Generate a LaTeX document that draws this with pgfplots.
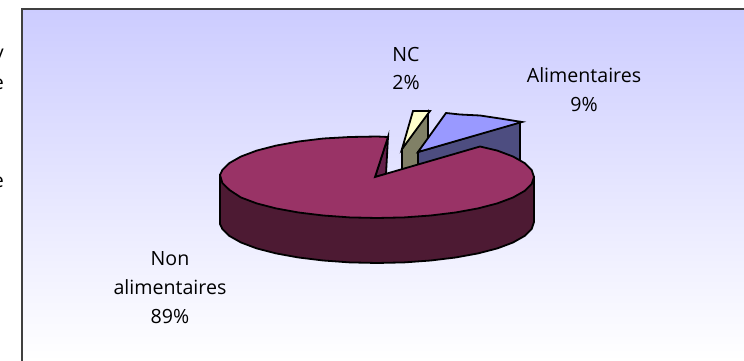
\documentclass[border=0pt]{standalone}
\usepackage{pgfplots}
\pgfplotsset{compat=1.18}
\usepackage{fontspec}
\setmainfont{Open Sans}
\definecolor{mainTop}{HTML}{993366}
\definecolor{mainSide}{HTML}{4D1A33}
\definecolor{mainWall}{HTML}{64204A}
\definecolor{foodTop}{HTML}{9999FF}
\definecolor{foodSide}{HTML}{4D4D80}
\definecolor{ncTop}{HTML}{FFFFCC}
\definecolor{ncSide}{HTML}{808066}
\definecolor{bgTop}{HTML}{CCCCFF}
\tikzset{lab/.style={font=\fontsize{19.6}{22}\selectfont, text=black, inner sep=0pt, anchor=center}}
\begin{document}
\begin{tikzpicture}
\begin{axis}[
  scale only axis, width=744pt, height=361pt,
  xmin=0, xmax=744, ymin=0, ymax=361, y dir=reverse,
  axis lines=none, clip=true,
  every axis plot/.append style={line join=miter, line width=1.8pt, draw=black},
]
% chart area
\fill[white] (axis cs:0,0) rectangle (axis cs:744,361);
\fill[top color=bgTop, bottom color=white] (axis cs:22,9) rectangle (axis cs:744,361);
\draw[black!75, line width=1.8pt] (axis cs:744,9) -- (axis cs:22,9) -- (axis cs:22,361);

% side of the exploded NC slice
\addplot[fill=ncSide] coordinates {(402,149)(428,112)(428,140)(418,152)(418,166)(402,170)} -- cycle;
% top of the NC slice
\addplot[fill=ncTop] coordinates {(413,111)(430,111)(402,149)} -- cycle;
% side of the Alimentaires slice
\addplot[fill=foodSide] coordinates {(418,152)(520,122)(520,166)(480,150)(418,166)} -- cycle;
% top of the Alimentaires slice
\addplot[fill=foodTop] coordinates {(446,113)(460,114.5)(480,115.5)(500,118.5)(522,122)(418,152)} -- cycle;

% rim of the Non alimentaires slice
\addplot[fill=mainSide] coordinates {
 (220,175)(220,224)(222.4,229.1)(229.5,236)(241,242.5)(256.7,248.4)(276,253.4)(298.5,257.5)
 (323.3,260.5)(349.7,262.4)(377,263)(404.3,262.4)(430.7,260.5)(455.5,257.5)(478,253.4)
 (497.3,248.4)(513,242.5)(524.5,236)(531.6,229.1)(534,222)(534,177)} -- cycle;
% inner wall at the cut
\addplot[fill=mainWall] coordinates {(375,177)(388,137)(386,174)} -- cycle;
% top of the Non alimentaires slice
\addplot[fill=mainTop] coordinates {
 (375,177)(388,137)(377,136.5)(349.7,137)(323.3,138.5)(298.5,141.5)(276,145.6)(256.7,150.6)
 (241,156.5)(229.5,163)(222.4,169.9)(220,175)(222.4,183)(229.5,190)(241,197.5)(256.7,203.4)
 (276,208.4)(298.5,212.5)(323.3,215.5)(349.7,217.4)(377,218)(404.3,217.4)(430.7,215.5)
 (455.5,212.5)(478,208.4)(497.3,203.4)(513,197.5)(524.5,191)(531.6,184.1)(534,177)
 (531.6,169.9)(524.5,163)(513,156.5)(497.3,150.6)(480,146.5)} -- cycle;

% slice labels
\node[lab] at (axis cs:406,54) {NC};
\node[lab] at (axis cs:406,82) {2\%};
\node[lab] at (axis cs:584,75) {Alimentaires};
\node[lab] at (axis cs:584,104) {9\%};
\node[lab] at (axis cs:170,259) {Non};
\node[lab] at (axis cs:170,287) {alimentaires};
\node[lab] at (axis cs:170,316) {89\%};

% ends of the text lines running in from the left margin
\begin{scope}
\clip (axis cs:0,40) rectangle (axis cs:6,200);
\node[lab, anchor=east] at (axis cs:4,57) {y};
\node[lab, anchor=east] at (axis cs:4,84) {e};
\node[lab, anchor=east] at (axis cs:4,182) {e};
\end{scope}
\end{axis}
\end{tikzpicture}
\end{document}
